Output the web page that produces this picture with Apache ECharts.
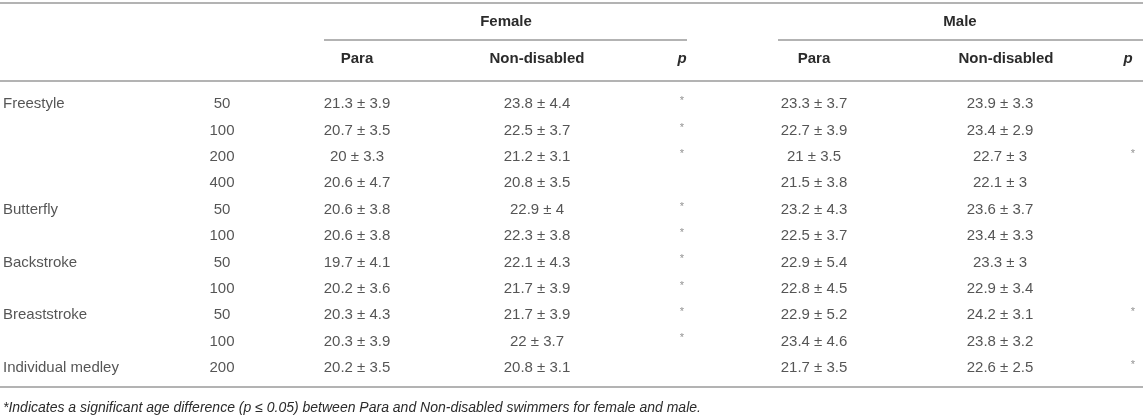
<!DOCTYPE html>
<html>
<head>
<meta charset="utf-8">
<script src="https://cdn.jsdelivr.net/npm/echarts/dist/echarts.min.js"></script>
<style>
html, body { margin: 0; padding: 0; background: #fff; }
#TableChart { width: 1143px; height: 416px; }
</style>
</head>
<body>
<div id="TableChart"></div>
<script>
//表格数据
var strokes = ['Freestyle', '', '', '', 'Butterfly', '', 'Backstroke', '', 'Breaststroke', '', 'Individual medley'];
var distances = ['50', '100', '200', '400', '50', '100', '50', '100', '50', '100', '200'];

var femaleParaMean = [21.3, 20.7, 20, 20.6, 20.6, 20.6, 19.7, 20.2, 20.3, 20.3, 20.2];
var femaleParaSD = [3.9, 3.5, 3.3, 4.7, 3.8, 3.8, 4.1, 3.6, 4.3, 3.9, 3.5];
var femaleNDMean = [23.8, 22.5, 21.2, 20.8, 22.9, 22.3, 22.1, 21.7, 21.7, 22, 20.8];
var femaleNDSD = [4.4, 3.7, 3.1, 3.5, 4, 3.8, 4.3, 3.9, 3.9, 3.7, 3.1];
var femaleSig = [1, 1, 1, 0, 1, 1, 1, 1, 1, 1, 0];

var maleParaMean = [23.3, 22.7, 21, 21.5, 23.2, 22.5, 22.9, 22.8, 22.9, 23.4, 21.7];
var maleParaSD = [3.7, 3.9, 3.5, 3.8, 4.3, 3.7, 5.4, 4.5, 5.2, 4.6, 3.5];
var maleNDMean = [23.9, 23.4, 22.7, 22.1, 23.6, 23.4, 23.3, 22.9, 24.2, 23.8, 22.6];
var maleNDSD = [3.3, 2.9, 3, 3, 3.7, 3.3, 3, 3.4, 3.1, 3.2, 2.5];
var maleSig = [0, 0, 1, 0, 0, 0, 0, 0, 1, 0, 1];

var footnote = '*Indicates a significant age difference (p \u2264 0.05) between Para and Non-disabled swimmers for female and male.';

//列位置
var colX = { stroke: 3, dist: 222, fPara: 357, fND: 537, fP: 682, mPara: 814, mND: 1000, mP: 1133 };
var FONT = '"Liberation Sans", Arial, Helvetica, sans-serif';
var TEXT_COLOR = '#2b2b2b';
var LINE_COLOR = '#b3b3b3';

function fmt(means, sds) {
    return means.map(function (m, i) { return m + ' \u00b1 ' + sds[i]; });
}
function stars(sig) {
    return sig.map(function (s) { return s ? '*' : ''; });
}

function cellSeries(x, texts, align, extra) {
    var label = {
        show: true,
        position: 'inside',
        formatter: '{b}',
        align: align || 'center',
        verticalAlign: 'middle',
        fontFamily: FONT,
        fontSize: 15,
        color: TEXT_COLOR
    };
    if (extra) {
        for (var k in extra) label[k] = extra[k];
    }
    return {
        type: 'scatter',
        symbolSize: 0,
        silent: true,
        itemStyle: { color: 'rgba(0,0,0,0)' },
        label: label,
        data: texts.map(function (t, i) {
            return { name: t, value: [x, i] };
        })
    };
}

function hLine(x1, x2, y, w) {
    return {
        type: 'line',
        shape: { x1: x1, y1: y, x2: x2, y2: y },
        style: { stroke: LINE_COLOR, lineWidth: w || 2 }
    };
}
function hText(x, y, t, align, italic) {
    return {
        type: 'text',
        x: x, y: y,
        style: {
            text: t,
            fill: TEXT_COLOR,
            font: (italic ? 'italic ' : '') + 'bold 15px ' + FONT,
            align: align || 'center',
            verticalAlign: 'middle'
        }
    };
}

function drawTableChart() {
    var dom = document.getElementById("TableChart");
    var myChart = echarts.init(dom);
    var option = null;

    var rows = distances.map(function (d, i) { return String(i); });

    option = {
        animation: false,
        backgroundColor: '#fff',
        grid: { left: 0, right: 0, top: 91, height: 290 },
        xAxis: { type: 'value', min: 0, max: 1143, show: false },
        yAxis: { type: 'category', data: rows, inverse: true, show: false },
        graphic: [
            hLine(0, 1143, 3, 2),
            hLine(324, 687, 40, 2),
            hLine(778, 1143, 40, 2),
            hLine(0, 1143, 81, 2),
            hLine(0, 1143, 387, 2),
            hText(506, 22, 'Female'),
            hText(960, 22, 'Male'),
            hText(colX.fPara, 59, 'Para'),
            hText(colX.fND, 59, 'Non-disabled'),
            hText(colX.fP, 59, 'p', 'center', true),
            hText(colX.mPara, 59, 'Para'),
            hText(1006, 59, 'Non-disabled'),
            hText(1128, 59, 'p', 'center', true),
            {
                type: 'text',
                x: 3, y: 408,
                style: {
                    text: footnote,
                    fill: TEXT_COLOR,
                    font: 'italic 14px ' + FONT,
                    align: 'left',
                    verticalAlign: 'middle'
                }
            }
        ],
        series: [
            cellSeries(colX.stroke, strokes, 'left'),
            cellSeries(colX.dist, distances),
            cellSeries(colX.fPara, fmt(femaleParaMean, femaleParaSD)),
            cellSeries(colX.fND, fmt(femaleNDMean, femaleNDSD)),
            cellSeries(colX.fP, stars(femaleSig), 'center', { fontSize: 11, color: '#777', offset: [0, -3] }),
            cellSeries(colX.mPara, fmt(maleParaMean, maleParaSD)),
            cellSeries(colX.mND, fmt(maleNDMean, maleNDSD)),
            cellSeries(colX.mP, stars(maleSig), 'center', { fontSize: 11, color: '#777', offset: [0, -3] })
        ]
    };

    if (option && typeof option === "object") {
        myChart.setOption(option, true);
    }
}

drawTableChart();
</script>
</body>
</html>
